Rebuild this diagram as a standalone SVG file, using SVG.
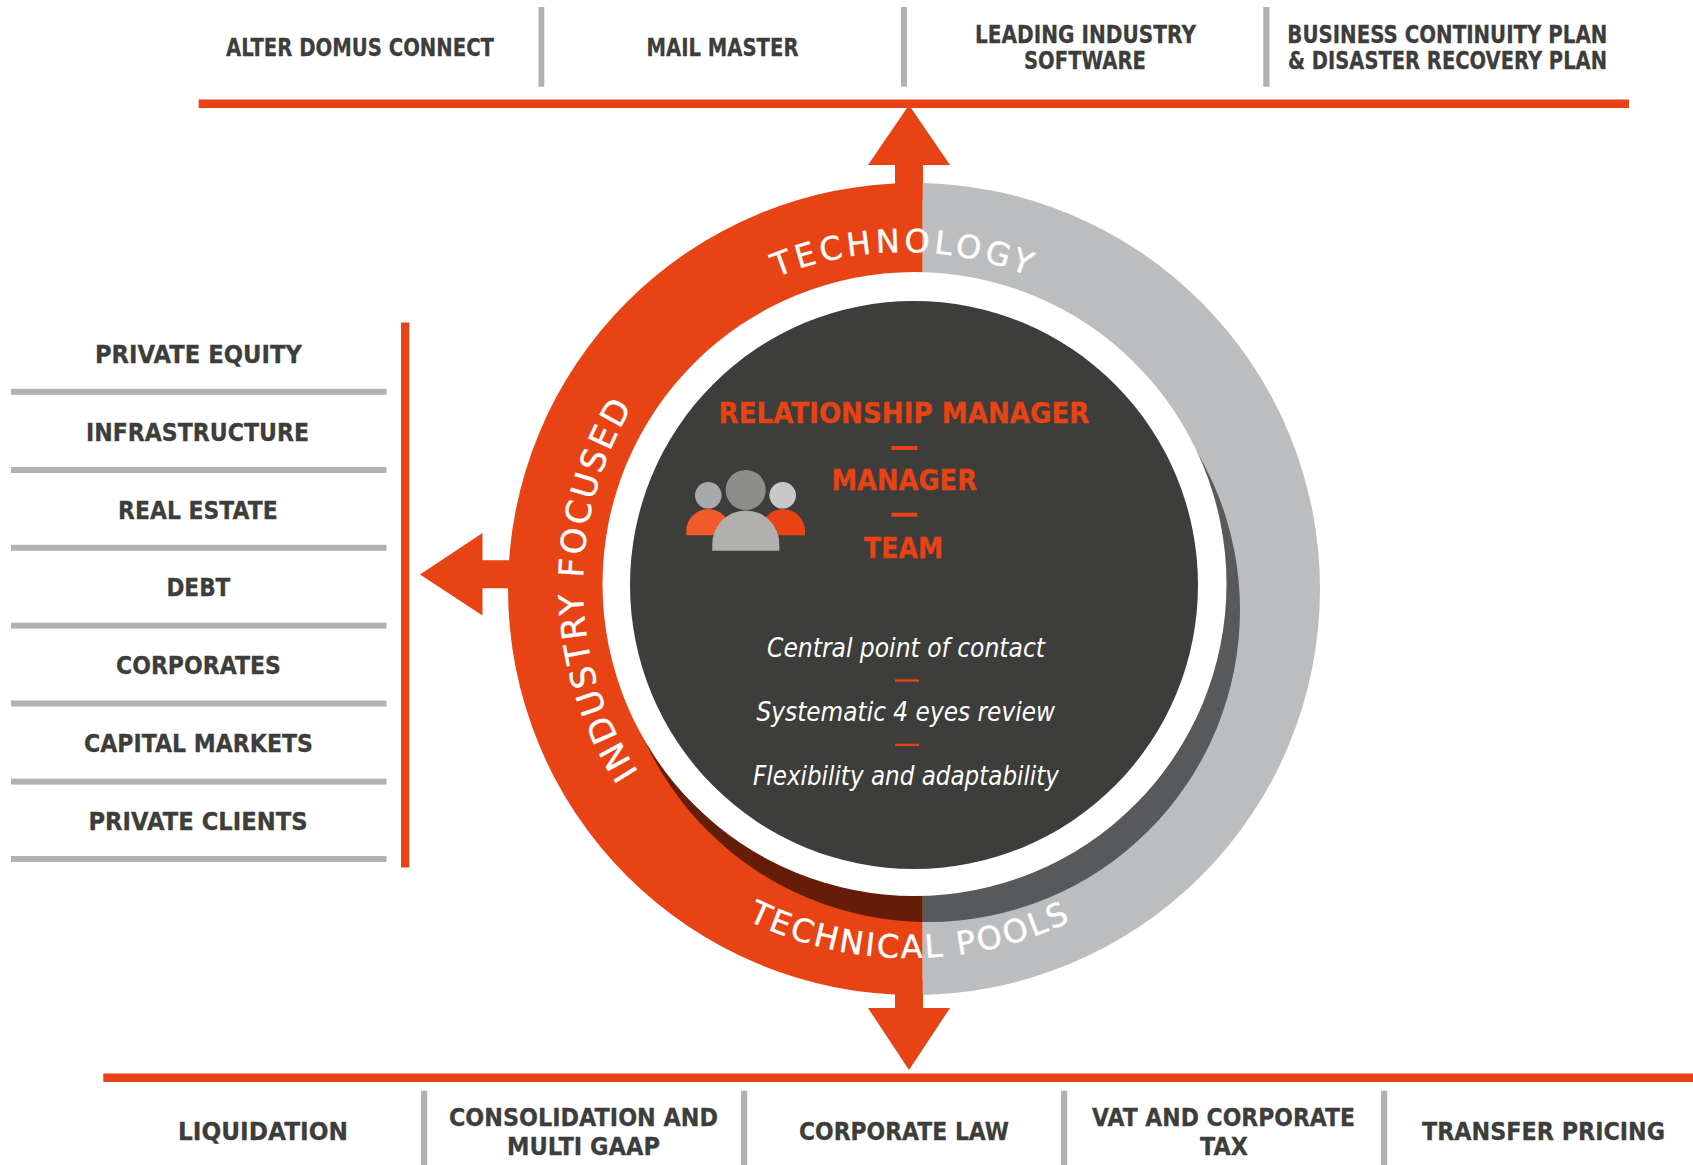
<svg xmlns="http://www.w3.org/2000/svg" width="1693" height="1165" viewBox="0 0 1693 1165">
<style>
.o{fill:#e84315}
.g{fill:#b1b1af}
text{font-family:"DejaVu Sans","Liberation Sans",sans-serif}
.l{font-weight:700;font-size:25px;fill:#3d3d3b;stroke:#3d3d3b;stroke-width:.3}
.c{font-weight:700;font-size:29px;fill:#e84315;stroke:#e84315;stroke-width:.3}
.i{font-style:italic;font-size:27px;fill:#fff}
.r{fill:#fff;stroke:#fff;stroke-width:.4;font-family:"DejaVu Sans",sans-serif;text-anchor:middle}
</style>
<defs>
<clipPath id="cl"><rect x="0" y="0" width="922.7" height="1165"/></clipPath>
<clipPath id="cr"><rect x="922.7" y="0" width="771" height="1165"/></clipPath>
<path id="pTech" d="M567 589A337 337 0 0 1 1241 589"/>
<path id="pPools" d="M541 589A369 369 0 0 0 1279 589"/>
<path id="pInd" d="M928 930A345 345 0 0 1 928 240"/>
</defs>
<rect width="1693" height="1165" fill="#fff"/>
<g id="rules">
<rect class="o" x="198.7" y="99.5" width="1430.3" height="8.5"/>
<rect class="o" x="103.3" y="1073.5" width="1589.7" height="8.5"/>
<rect class="o" x="401" y="322.5" width="8.3" height="545"/>
</g>
<g id="connectors">
<path class="o" d="M909 105L950 165H923V200H895V165H868Z"/>
<path class="o" d="M909 1070L950 1008H923V980H895V1008H868Z"/>
<path class="o" d="M420 574.4L482.5 533V560.2H530V588.2H482.5V615.5Z"/>
</g>
<g id="ring">
<circle cx="914" cy="589" r="406" class="o" clip-path="url(#cl)"/>
<circle cx="914" cy="589" r="406" fill="#bcbdbf" clip-path="url(#cr)"/>
<circle cx="928" cy="610" r="312" fill="#661d08" clip-path="url(#cl)"/>
<circle cx="928" cy="610" r="312" fill="#58595b" clip-path="url(#cr)"/>
<circle cx="914.5" cy="584" r="312" fill="#fff"/>
<text class="r" font-size="32" letter-spacing="4.2"><textPath href="#pTech" startOffset="50%">TECHNOLOGY</textPath></text>
<text class="r" font-size="32" letter-spacing="2.5"><textPath href="#pPools" startOffset="50%">TECHNICAL POOLS</textPath></text>
<text class="r" font-size="34" letter-spacing="2.6"><textPath href="#pInd" startOffset="49.6%">INDUSTRY FOCUSED</textPath></text>
</g>
<g id="core">
<circle cx="914" cy="585" r="284" fill="#3d3d3b"/>
<text class="c" x="718.5" y="422.7" textLength="371" lengthAdjust="spacingAndGlyphs">RELATIONSHIP MANAGER</text>
<rect class="o" x="891.4" y="446" width="25.8" height="4"/>
<text class="c" x="831.5" y="489.8" textLength="145.5" lengthAdjust="spacingAndGlyphs">MANAGER</text>
<rect class="o" x="891.4" y="512.7" width="25.8" height="4"/>
<text class="c" x="864" y="557.7" textLength="79" lengthAdjust="spacingAndGlyphs">TEAM</text>
<text class="i" x="767" y="657.3" textLength="278" lengthAdjust="spacingAndGlyphs">Central point of contact</text>
<rect class="o" x="895" y="679.3" width="24" height="2.4"/>
<text class="i" x="756.5" y="721.3" textLength="298.5" lengthAdjust="spacingAndGlyphs">Systematic 4 eyes review</text>
<rect class="o" x="895" y="743.7" width="24" height="2.4"/>
<text class="i" x="753" y="785" textLength="306" lengthAdjust="spacingAndGlyphs">Flexibility and adaptability</text>
</g>
<g id="team-icon">
<circle cx="708.3" cy="495.3" r="13.3" fill="#a7a9ac"/>
<circle cx="782.7" cy="495.3" r="13.3" fill="#c7c8ca"/>
<path d="M686.3 535.3V531A22 22 0 0 1 730.3 531V535.3Z" fill="#f15a29"/>
<path d="M761 535.3V531A22 22 0 0 1 805 531V535.3Z" fill="#e84315"/>
<circle cx="745.7" cy="490" r="20" fill="#8d8d8b"/>
<path d="M712.3 550.7V544A33.5 33.5 0 0 1 779.3 544V550.7Z" fill="#b0b0ae"/>
</g>
<g id="industry-private-equity"><text class="l" x="94.9" y="363" textLength="207" lengthAdjust="spacingAndGlyphs">PRIVATE EQUITY</text><rect class="g" x="11" y="388.8" width="375.5" height="6"/></g>
<g id="industry-infrastructure"><text class="l" x="86" y="441" textLength="223" lengthAdjust="spacingAndGlyphs">INFRASTRUCTURE</text><rect class="g" x="11" y="467" width="375.5" height="6"/></g>
<g id="industry-real-estate"><text class="l" x="118.1" y="519" textLength="159.5" lengthAdjust="spacingAndGlyphs">REAL ESTATE</text><rect class="g" x="11" y="544.8" width="375.5" height="6"/></g>
<g id="industry-debt"><text class="l" x="166.4" y="596" textLength="64" lengthAdjust="spacingAndGlyphs">DEBT</text><rect class="g" x="11" y="622.6" width="375.5" height="6"/></g>
<g id="industry-corporates"><text class="l" x="116" y="674.4" textLength="165" lengthAdjust="spacingAndGlyphs">CORPORATES</text><rect class="g" x="11" y="700.5" width="375.5" height="6"/></g>
<g id="industry-capital-markets"><text class="l" x="84" y="752" textLength="229" lengthAdjust="spacingAndGlyphs">CAPITAL MARKETS</text><rect class="g" x="11" y="778.6" width="375.5" height="6"/></g>
<g id="industry-private-clients"><text class="l" x="88.5" y="830.4" textLength="219" lengthAdjust="spacingAndGlyphs">PRIVATE CLIENTS</text><rect class="g" x="11" y="856" width="375.5" height="6"/></g>
<g id="tech-alter-domus"><text class="l" x="226" y="55.5" textLength="268" lengthAdjust="spacingAndGlyphs">ALTER DOMUS CONNECT</text></g>
<rect class="g" x="538.5" y="7" width="5.8" height="79.7"/>
<g id="tech-mail-master"><text class="l" x="646.5" y="55.5" textLength="152" lengthAdjust="spacingAndGlyphs">MAIL MASTER</text></g>
<rect class="g" x="901" y="7" width="5.9" height="79.7"/>
<g id="tech-software"><text class="l" x="975" y="42.5" textLength="221" lengthAdjust="spacingAndGlyphs">LEADING INDUSTRY</text><text class="l" x="1024" y="69" textLength="122" lengthAdjust="spacingAndGlyphs">SOFTWARE</text></g>
<rect class="g" x="1263.3" y="7" width="6.2" height="79.7"/>
<g id="tech-bcp"><text class="l" x="1287.3" y="42.5" textLength="320" lengthAdjust="spacingAndGlyphs">BUSINESS CONTINUITY PLAN</text><text class="l" x="1288" y="69" textLength="319" lengthAdjust="spacingAndGlyphs">&amp; DISASTER RECOVERY PLAN</text></g>
<g id="pool-liquidation"><text class="l" x="178" y="1140" textLength="170" lengthAdjust="spacingAndGlyphs">LIQUIDATION</text></g>
<rect class="g" x="421" y="1090.7" width="6.2" height="74.3"/>
<g id="pool-consolidation"><text class="l" x="449" y="1125.7" textLength="269" lengthAdjust="spacingAndGlyphs">CONSOLIDATION AND</text><text class="l" x="507" y="1155" textLength="153" lengthAdjust="spacingAndGlyphs">MULTI GAAP</text></g>
<rect class="g" x="741" y="1090.7" width="6.2" height="74.3"/>
<g id="pool-corporate-law"><text class="l" x="799" y="1140" textLength="210" lengthAdjust="spacingAndGlyphs">CORPORATE LAW</text></g>
<rect class="g" x="1061" y="1090.7" width="6.2" height="74.3"/>
<g id="pool-vat"><text class="l" x="1092" y="1125.7" textLength="263" lengthAdjust="spacingAndGlyphs">VAT AND CORPORATE</text><text class="l" x="1200" y="1155" textLength="48" lengthAdjust="spacingAndGlyphs">TAX</text></g>
<rect class="g" x="1381" y="1090.7" width="6.2" height="74.3"/>
<g id="pool-transfer"><text class="l" x="1422" y="1140" textLength="243" lengthAdjust="spacingAndGlyphs">TRANSFER PRICING</text></g>
</svg>
